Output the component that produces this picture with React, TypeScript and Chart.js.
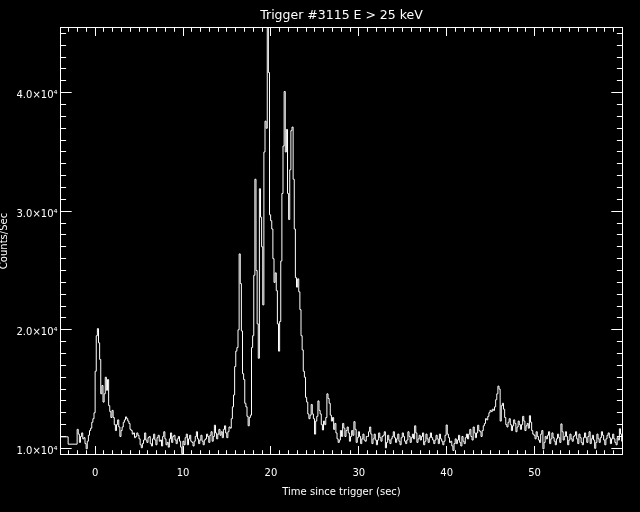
import React, { useEffect, useRef } from 'react';
import { Chart, registerables } from 'chart.js';

Chart.register(...registerables);

// ---- text ----
const TITLE = 'Trigger #3115 E > 25 keV';
const X_TITLE = 'Time since trigger (sec)';
const Y_TITLE = 'Counts/Sec';

// ---- axes ----
const X_MIN = -3.94;
const X_MAX = 60.0;
const Y_MIN = 9480;
const Y_MAX = 45500;
const X_MAJOR = [0, 10, 20, 30, 40, 50];
const X_MAJOR_LABELS = ['0', '10', '20', '30', '40', '50'];
const X_MINOR_STEP = 1;
const Y_MAJOR = [10000, 20000, 30000, 40000];
const Y_MAJOR_LABELS = ['1.0×10⁴', '2.0×10⁴', '3.0×10⁴', '4.0×10⁴'];
const Y_MINOR_STEP = 1000;

// ---- data: coarse pre-trigger bins (left edges, counts/s) ----
const COARSE_EDGES = [-4.096, -3.072];
const COARSE_COUNTS = [10970, 10350];

// ---- data: fine bins starting at FINE_START, width FINE_BIN (counts/s) ----
const FINE_START = -2.048;
const FINE_BIN = 0.128;
const FINE_COUNTS = [
  11600, 11200, 10500, 11000, 11300, 10800, 10900, 10400,
  9960, 10600, 11100, 11500, 11700, 12200, 12500, 13000,
  16500, 19500, 20100, 18900, 17500, 14600, 15300, 13900,
  14600, 16000, 14900, 15800, 13600, 13100, 12600, 13200,
  12600, 12000, 11500, 12000, 12400, 11800, 11000, 11500,
  11800, 12200, 12400, 12650, 12500, 12300, 12100, 11600,
  11500, 11200, 11300, 10900, 11000, 11300, 11100, 10800,
  10300, 10050, 10400, 10700, 11300, 10700, 10500, 10900,
  11000, 10400, 10200, 10800, 11200, 10700, 10300, 10900,
  11100, 10600, 10700, 10200, 11000, 11400, 10800, 10300,
  10500, 10100, 10800, 11300, 10500, 11000, 11100, 10700,
  10400, 10800, 11000, 10600, 10100, 9550, 10600, 10300,
  10900, 11200, 10300, 10800, 11100, 10600, 10500, 10200,
  10600, 11000, 11400, 10800, 10400, 10700, 11100, 10600,
  10300, 10700, 10800, 11200, 11000, 10500, 11100, 11400,
  10600, 11000, 11950, 11300, 10800, 11200, 11600, 11100,
  11400, 10900, 11600, 11900, 11300, 10900, 11400, 11800,
  11700, 12500, 13500, 14500, 16900, 18200, 18500, 20000,
  26400, 23900, 19900, 16300, 15800, 13800, 13500, 12700,
  11900, 12600, 12800, 18500, 19500, 24600, 32700, 25000,
  20500, 17600, 31900, 29500, 27000, 22100, 35000, 37600,
  37000, 46000, 41700, 29700, 29200, 28500, 26000, 24000,
  24800, 23300, 20500, 18200, 20700, 25800, 31500, 35500,
  40100, 35000, 36900, 31500, 29300, 33500, 36800, 37100,
  32700, 28500, 24400, 23600, 24300, 23200, 21700, 19500,
  18300, 16500, 16000, 14300, 13900, 12900, 12500, 12800,
  13700, 12900, 12500, 11200, 12300, 12700, 14000, 13200,
  12900, 12000, 11550, 12300, 12000, 12600, 14600, 14200,
  13800, 12800, 12300, 12600, 11600, 12100, 11300, 10800,
  10500, 10700, 11500, 11000, 12100, 11700, 11000, 11500,
  11800, 11300, 10600, 11000, 11500, 11100, 12250, 11600,
  10500, 10900, 11400, 11000, 10400, 10800, 11200, 10700,
  10600, 11000, 11000, 11400, 11800, 11200, 10400, 10800,
  11200, 10700, 10300, 10700, 11300, 10900, 10600, 11000,
  11100, 11400, 10040, 10500, 11100, 10700, 10400, 10800,
  11000, 11400, 10900, 10500, 10800, 11200, 10600, 10300,
  10900, 11300, 11000, 10600, 10400, 10700, 11400, 11000,
  10500, 10900, 11200, 10800, 11900, 11300, 10500, 10800,
  11100, 10700, 11000, 11300, 10300, 10600, 11200, 10800,
  10500, 10900, 11300, 10900, 10700, 10400, 10700, 11100,
  10800, 10400, 11200, 10800, 10600, 10300, 10600, 11100,
  11970, 11200, 10900, 10500, 10600, 10200, 9820, 10400,
  10800, 10400, 10700, 11100, 10500, 10200, 11000, 10600,
  10400, 10900, 11200, 10800, 11200, 11600, 11000, 10700,
  11800, 11300, 10900, 11300, 11950, 11500, 11400, 11000,
  11500, 11900, 12100, 12500, 12400, 12700, 13000, 13200,
  13100, 13300, 13200, 13500, 14100, 14600, 15250, 15000,
  12300, 13600, 13800, 13300, 12600, 12000, 11800, 12200,
  12500, 12000, 11500, 11900, 12400, 12100, 11400, 11800,
  12300, 12000, 11600, 12000, 12700, 12300, 11500, 11900,
  12100, 11700, 12750, 12200, 11500, 11200, 11100, 10800,
  11400, 11000, 10700, 10500, 11200, 11500, 9960, 10500,
  11000, 10800, 11100, 11400, 10400, 10800, 11300, 10900,
  10600, 10300, 10800, 11200, 10900, 10500, 12060, 11400,
  10700, 11000, 11400, 11000, 10300, 10700, 11200, 10800,
  10600, 11000, 11100, 11400, 10800, 10400, 11200, 10900,
  10500, 10300, 10900, 11300, 10900, 10500, 11000, 11400,
  10400, 10800, 11100, 10700, 10000, 10500, 11200, 10800,
  10500, 10900, 11400, 11100, 10700, 10300, 10800, 11100,
  11300, 10900, 10400, 10800, 11200, 10800, 10500, 10300,
  10900, 10700, 11650, 11200, 10600, 10900, 11100, 10800,
];

const FONT = 'DejaVu Sans';

const framePlugin = {
  id: 'idlFrame',
  afterDatasetsDraw(chart: any) {
    const { ctx, chartArea: a, scales } = chart;
    const xs = scales.x;
    const ys = scales.y;
    ctx.save();
    ctx.strokeStyle = '#ffffff';
    ctx.lineWidth = 1;
    ctx.strokeRect(a.left, a.top, a.right - a.left, a.bottom - a.top);
    ctx.beginPath();
    for (let v = Math.ceil(X_MIN); v < X_MAX; v += X_MINOR_STEP) {
      const px = Math.floor(xs.getPixelForValue(v)) + 0.5;
      const len = X_MAJOR.includes(v) ? 8.5 : 4.3;
      ctx.moveTo(px, a.bottom);
      ctx.lineTo(px, a.bottom - len);
      ctx.moveTo(px, a.top);
      ctx.lineTo(px, a.top + len);
    }
    for (let v = Math.ceil(Y_MIN / Y_MINOR_STEP) * Y_MINOR_STEP; v < Y_MAX; v += Y_MINOR_STEP) {
      const py = Math.floor(ys.getPixelForValue(v)) + 0.5;
      const len = Y_MAJOR.includes(v) ? 11.2 : 5.6;
      ctx.moveTo(a.left, py);
      ctx.lineTo(a.left + len, py);
      ctx.moveTo(a.right, py);
      ctx.lineTo(a.right - len, py);
    }
    ctx.stroke();
    ctx.restore();
  },
};

export default function App() {
  const ref = useRef<HTMLCanvasElement | null>(null);

  useEffect(() => {
    if (!ref.current) return;
    const points: { x: number; y: number }[] = [];
    COARSE_EDGES.forEach((t, i) => points.push({ x: t, y: COARSE_COUNTS[i] }));
    FINE_COUNTS.forEach((c, i) => points.push({ x: FINE_START + i * FINE_BIN, y: c }));
    points.push({
      x: FINE_START + FINE_COUNTS.length * FINE_BIN,
      y: FINE_COUNTS[FINE_COUNTS.length - 1],
    });

    const chart = new Chart(ref.current, {
      type: 'line',
      data: {
        datasets: [
          {
            data: points,
            borderColor: '#ffffff',
            borderWidth: 1,
            pointRadius: 0,
            stepped: 'before',
            fill: false,
            tension: 0,
          },
        ],
      },
      options: {
        animation: false,
        responsive: false,
        devicePixelRatio: 1,
        layout: { padding: { left: 0, right: 17.5, top: 0, bottom: 0 } },
        plugins: {
          legend: { display: false },
          tooltip: { enabled: false },
          title: {
            display: true,
            text: TITLE,
            color: '#ffffff',
            fullSize: false,
            font: { family: FONT, size: 12.5, weight: 'normal', lineHeight: 1.2 },
            padding: { top: 8, bottom: 4.5 },
          },
        },
        scales: {
          x: {
            type: 'linear',
            min: X_MIN,
            max: X_MAX,
            grid: { display: false, drawTicks: false },
            border: { display: false },
            afterBuildTicks: (s: any) => {
              s.ticks = X_MAJOR.map((v) => ({ value: v }));
            },
            afterFit: (s: any) => {
              s.height = 57.5;
            },
            ticks: {
              autoSkip: false,
              maxRotation: 0,
              padding: 13,
              color: '#ffffff',
              font: { family: FONT, size: 10 },
              callback: (v: any) => {
                const k = X_MAJOR.indexOf(Number(v));
                return k >= 0 ? X_MAJOR_LABELS[k] : '';
              },
            },
            title: {
              display: true,
              text: X_TITLE,
              color: '#ffffff',
              font: { family: FONT, size: 10 },
              padding: { top: 0, bottom: 14 },
            },
          },
          y: {
            type: 'linear',
            min: Y_MIN,
            max: Y_MAX,
            grid: { display: false, drawTicks: false },
            border: { display: false },
            afterBuildTicks: (s: any) => {
              s.ticks = Y_MAJOR.map((v) => ({ value: v }));
            },
            afterFit: (s: any) => {
              s.width = 60.5;
            },
            ticks: {
              autoSkip: false,
              padding: 3,
              labelOffset: 3,
              color: '#ffffff',
              font: { family: FONT, size: 10 },
              callback: (v: any) => {
                const k = Y_MAJOR.indexOf(Number(v));
                return k >= 0 ? Y_MAJOR_LABELS[k] : '';
              },
            },
            title: {
              display: true,
              text: Y_TITLE,
              color: '#ffffff',
              font: { family: FONT, size: 10, lineHeight: 0.8 },
              padding: 0,
            },
          },
        },
      },
      plugins: [framePlugin],
    });
    return () => chart.destroy();
  }, []);

  return (
    <div
      style={{
        position: 'fixed',
        left: 0,
        top: 0,
        width: 640,
        height: 512,
        background: '#000000',
      }}
    >
      <canvas ref={ref} width={640} height={512} style={{ display: 'block' }} />
    </div>
  );
}
